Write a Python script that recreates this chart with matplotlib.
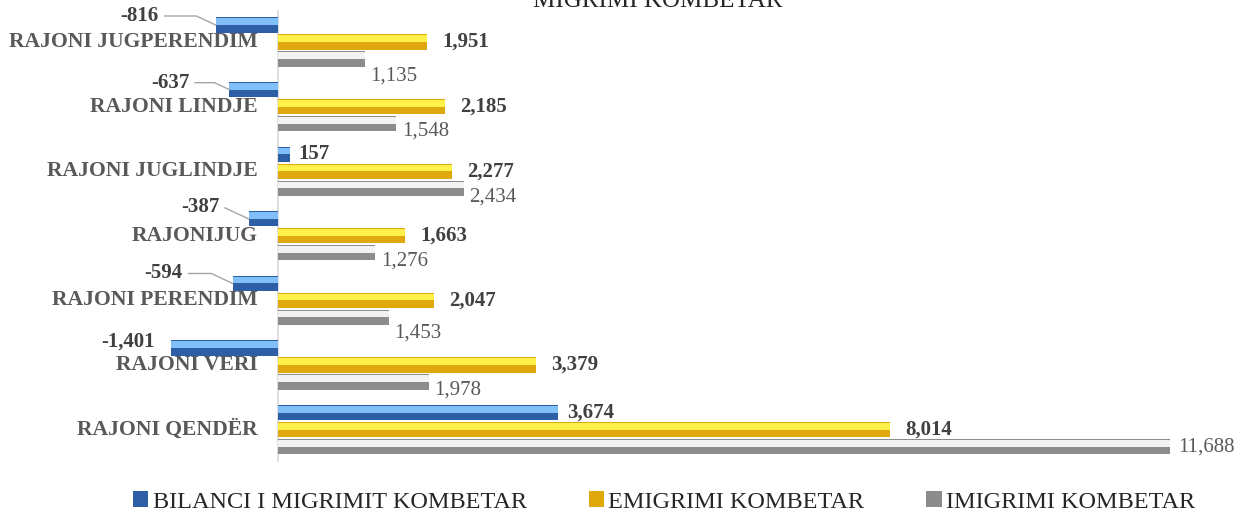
import matplotlib.pyplot as plt
from matplotlib.patches import Patch

# data (bottom to top)
regions = ['RAJONI QENDËR', 'RAJONI VERI', 'RAJONI PERENDIM', 'RAJONIJUG',
           'RAJONI JUGLINDJE', 'RAJONI LINDJE', 'RAJONI JUGPERENDIM']
bilanci = [3674, -1401, -594, -387, 157, -637, -816]
emigrimi = [8014, 3379, 2047, 1663, 2277, 2185, 1951]
imigrimi = [11688, 1978, 1453, 1276, 2434, 1548, 1135]
series_names = ['BILANCI I MIGRIMIT KOMBETAR', 'EMIGRIMI KOMBETAR', 'IMIGRIMI KOMBETAR']
title = 'MIGRIMI KOMBETAR'

# label placement (points), by row index
neg_offsets = {1: (-11.5, 5), 2: (-36, 7.2), 3: (-21, 8.6), 5: (-29, 5), 6: (-41, 6.5)}
gray_dy = [0, -6, -11, -6, -6, -5, -12]

plt.rcParams['font.family'] = ['Liberation Serif', 'DejaVu Serif']

fig = plt.figure(figsize=(12.53, 5.17), dpi=100)
ax = fig.add_axes([150 / 1253, 1 - 462 / 517, 1040 / 1253, 452.3 / 517])

h = 0.235
step = 0.263
y = list(range(len(regions)))
y_b = [v + step for v in y]
y_e = y
y_i = [v - step for v in y]

dark = ['#2e5ea6', '#dfa80c', '#8c8c8c']
light = ['#80bff7', '#fff04a', '#f2f2f2']


def bevel(ypos, vals, d, l):
    ax.barh(ypos, vals, height=h, color=d, edgecolor='none', zorder=2)
    ax.barh([p + h * 0.22 for p in ypos], vals, height=h * 0.44, color=l,
            edgecolor='none', zorder=3)


bevel(y_b, bilanci, dark[0], light[0])
bevel(y_e, emigrimi, dark[1], light[1])
bevel(y_i, imigrimi, dark[2], light[2])

ax.set_xlim(-1678, 11952)
ax.set_ylim(-0.5, 6.5)
ax.axvline(0, color='#d9d9d9', lw=1.2, zorder=1)
for s in ax.spines.values():
    s.set_visible(False)
ax.set_xticks([])
ax.set_yticks([])

# category names, right aligned next to the zero line
for p, name in zip(y, regions):
    ax.annotate(name, xy=(0, p), xytext=(-14.4, 0), textcoords='offset points',
                ha='right', va='center', fontsize=15.6, fontweight='bold',
                color='#595959')

# balance labels
for i, (p, v) in enumerate(zip(y_b, bilanci)):
    txt = f'{v:,}'
    if v >= 0:
        ax.annotate(txt, xy=(v, p), xytext=(6, 0), textcoords='offset points',
                    ha='left', va='center', fontsize=15, fontweight='bold',
                    color='#404040')
    else:
        dx, dy = neg_offsets[i]
        arrow = None
        if dx < -15:
            arrow = dict(arrowstyle='-', color='#a6a6a6', lw=1,
                         connectionstyle='angle,angleA=0,angleB=-25',
                         relpos=(1, 0.5), shrinkA=2, shrinkB=0)
        ax.annotate(txt, xy=(v, p), xytext=(dx, dy),
                    textcoords='offset points', ha='right', va='center',
                    fontsize=15, fontweight='bold', color='#404040',
                    arrowprops=arrow)

for p, v in zip(y_e, emigrimi):
    ax.annotate(f'{v:,}', xy=(v, p), xytext=(11, 0), textcoords='offset points',
                ha='left', va='center', fontsize=15, fontweight='bold',
                color='#404040')

for p, v, dy in zip(y_i, imigrimi, gray_dy):
    dx = 6 if dy == 0 else 4
    ax.annotate(f'{v:,}', xy=(v, p), xytext=(dx, dy), textcoords='offset points',
                ha='left', va='center', fontsize=15, color='#595959')

fig.text(0.525, 1 - 7 / 517, title, ha='center', va='baseline', fontsize=18,
         color='#262626')

handles = [Patch(facecolor=c, edgecolor='none') for c in dark]
fig.legend(handles, series_names, loc='center', bbox_to_anchor=(0.530, 1 - 502 / 517),
           ncol=3, frameon=False, fontsize=17.5, handlelength=0.62, handleheight=0.6,
           handletextpad=0.2, columnspacing=2.55, labelcolor='#262626')

fig.savefig('out.png', dpi=100)
